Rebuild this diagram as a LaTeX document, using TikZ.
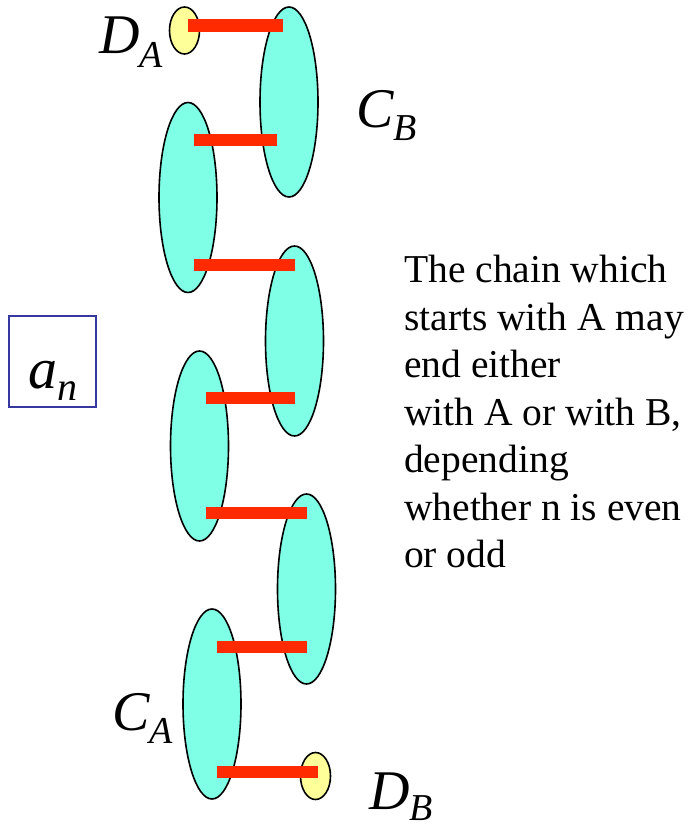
\documentclass[tikz,border=0pt]{standalone}
\usepackage{fontspec}
\setmainfont{Liberation Serif}
\usepackage{xcolor}
\usepackage{tikz}
\usetikzlibrary{shapes.geometric,calc}

\definecolor{aqua}{RGB}{127,255,229}
\definecolor{paleyellow}{RGB}{255,255,153}
\definecolor{linkred}{RGB}{255,42,0}
\definecolor{boxblue}{RGB}{55,55,160}
\newcommand{\lowidx}[2][14pt]{\raisebox{-#1}{\fontsize{38}{38}\selectfont #2}}

\begin{document}
\begin{tikzpicture}[x=1pt, y=-1pt,
  blob/.style={ellipse, draw, line width=1.6pt, fill=aqua, inner sep=0pt, minimum width=58pt, minimum height=190pt},
  tip/.style={blob, fill=paleyellow, minimum width=30pt, minimum height=47pt},
  link/.style={line width=12.5pt, linkred},
  lab/.style={inner sep=0pt, anchor=base west, font=\fontsize{56}{56}\selectfont\itshape},
  anbox/.style={draw=boxblue, line width=2pt, inner sep=0pt, minimum width=87pt, text height=72pt, text depth=19pt, font=\fontsize{58}{58}\selectfont\itshape}]
\useasboundingbox (0,0) rectangle (688,827);
% the chain
\node[tip] (dA) at (184.5,30.5) {};
\node[blob] (cB) at (289,102) {};
\node[blob] (c2) at (188,197.5) {};
\node[blob] (c3) at (294.5,341) {};
\node[blob] (c4) at (199.5,446) {};
\node[blob] (c5) at (306.5,589) {};
\node[blob] (cA) at (212,704) {};
\node[tip] (dB) at (315.5,776) {};
\draw[link] ($(dA)+(3.5,-5)$) -- ($(cB)+(-6,-76.5)$);
\draw[link] ($(c2)+(6,-57.5)$) -- ($(cB)+(-12,38)$);
\draw[link] ($(c2)+(6,67.5)$) -- ($(c3)+(0.5,-76)$);
\draw[link] ($(c4)+(6.5,-48)$) -- ($(c3)+(0.5,57)$);
\draw[link] ($(c4)+(6.5,67)$) -- ($(c5)+(0.5,-76)$);
\draw[link] ($(cA)+(5,-57)$) -- ($(c5)+(0.5,58)$);
\draw[link] ($(cA)+(5,68)$) -- ($(dB)+(2.5,-4)$);
% labels
\node[lab] (labDA) at (99,53) {D\lowidx{A}};
\node[lab] (labCB) at (356,127) {C\lowidx[13pt]{B}};
\node[lab] (labCA) at (112,730) {C\lowidx[13pt]{A}};
\node[lab] (labDB) at (369,809) {D\lowidx[11pt]{B}};
\node[anbox] (an) at (52.5,361.5) {a\lowidx[12pt]{\fontsize{40}{40}\selectfont n}};
\node[inner sep=0pt, anchor=north west, align=left, font=\fontsize{39.5}{47.5}\selectfont] (note) at (404,255)
  {The chain which\\starts with A may\\end either\\with A or with B,\\depending\\whether n is even\\or odd};
\end{tikzpicture}
\end{document}
